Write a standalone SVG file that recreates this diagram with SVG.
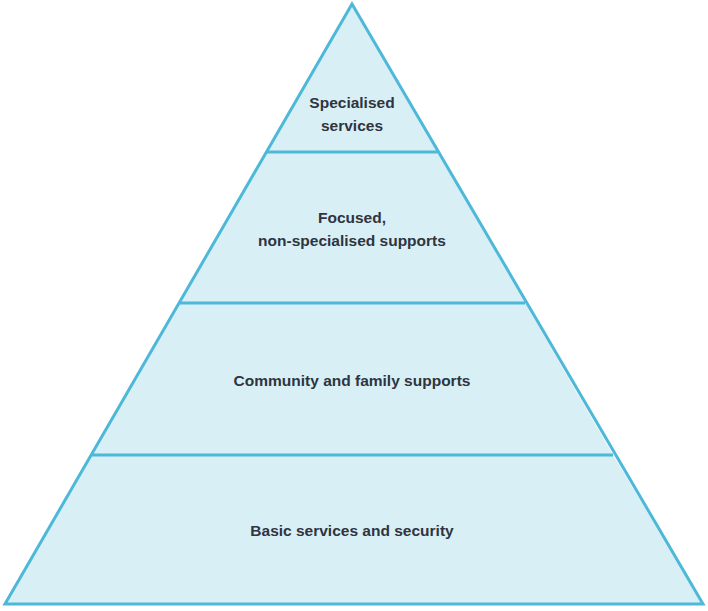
<svg xmlns="http://www.w3.org/2000/svg" width="708" height="611" viewBox="0 0 708 611">
<style>
.tier{fill:#d9eff6;stroke:none}
.edge{stroke:#4db8d8;stroke-width:3;fill:none;stroke-linejoin:miter}
.lbl{font-family:"Liberation Sans",Arial,sans-serif;font-weight:bold;font-size:15.5px;fill:#2e3440;text-anchor:middle}
</style>
<rect width="708" height="611" fill="#ffffff"/>
<g id="tier4">
<polygon class="tier" points="352,4 266.4,152 437.6,152"/>
<text class="lbl" x="352" y="108">Specialised</text>
<text class="lbl" x="352" y="131">services</text>
</g>
<g id="tier3">
<polygon class="tier" points="266.4,152 437.6,152 525,303 179,303"/>
<text class="lbl" x="352" y="223">Focused,</text>
<text class="lbl" x="352" y="246">non-specialised supports</text>
</g>
<g id="tier2">
<polygon class="tier" points="179,303 525,303 613,455 91,455"/>
<text class="lbl" x="352" y="386">Community and family supports</text>
</g>
<g id="tier1">
<polygon class="tier" points="91,455 613,455 703,604 5,604"/>
<text class="lbl" x="352" y="536">Basic services and security</text>
</g>
<g id="connectors">
<polygon class="edge" points="352,4 703,604 5,604"/>
<line class="edge" x1="266.4" y1="152" x2="437.6" y2="152"/>
<line class="edge" x1="179" y1="303" x2="525" y2="303"/>
<line class="edge" x1="91" y1="455" x2="613" y2="455"/>
</g>
</svg>
